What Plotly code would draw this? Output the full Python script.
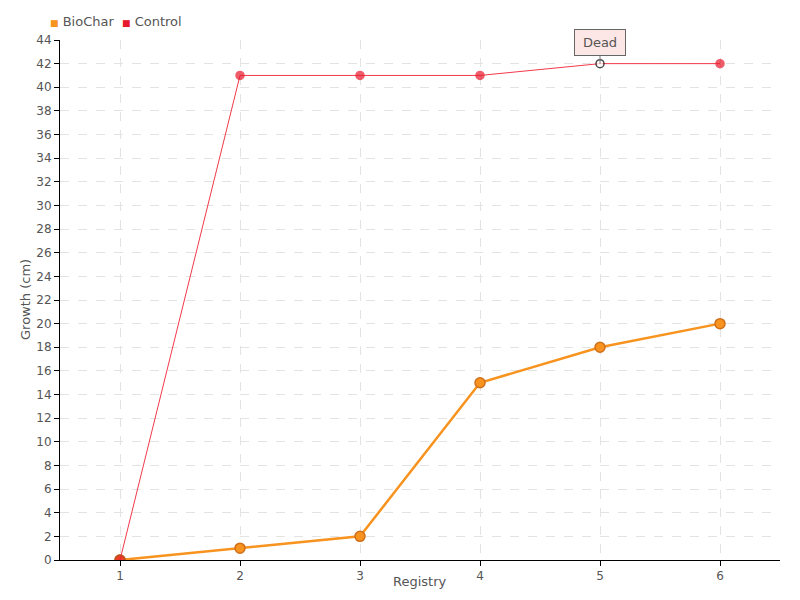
import plotly.graph_objects as go

registry = [1, 2, 3, 4, 5, 6]
biochar = [0, 1, 2, 15, 18, 20]
control = [0, 41, 41, 41, 42, 42]
y_ticks = list(range(0, 45, 2))

FONT = "DejaVu Sans, sans-serif"
ORANGE = "#f7931e"
RED = "#e8192c"
TXT = "#555"

# page body has an 8px offset, so margins are shifted to put the plot
# area at x 60..780, y 40..560 of the window
fig = go.Figure()

fig.add_trace(go.Scatter(
    x=registry, y=biochar, mode="lines+markers", name="BioChar",
    line=dict(color=ORANGE, width=2.5),
    marker=dict(color=ORANGE, size=10, line=dict(color="#cf6f1a", width=1.5)),
))

# the highlighted point at registry 5 is drawn white with a dark edge
ctrl_fill = [RED] * len(control)
ctrl_edge = [RED] * len(control)
ctrl_fill[4] = "white"
ctrl_edge[4] = "black"
ctrl_size = [8] * len(control)
ctrl_size[0] = 10
ctrl_edge[0] = "#b5451b"
fig.add_trace(go.Scatter(
    x=registry, y=control, mode="lines+markers", name="Control",
    line=dict(color="#f2394a", width=1),
    marker=dict(color=ctrl_fill, size=ctrl_size, line=dict(color=ctrl_edge, width=1.5)),
))

PW, PH = 720, 520  # plot area in px

def px_x(p):
    return (p - 60) / PW

def px_y(p):
    return 1 - (p - 40) / PH

# compact legend drawn as text
legend_text = (f"<span style='color:{ORANGE};font-size:9px'>■</span> BioChar  "
               f"<span style='color:{RED};font-size:9px'>■</span> Control")
fig.add_annotation(
    x=px_x(48), y=px_y(22), xref="paper", yref="paper", text=legend_text,
    showarrow=False, xanchor="left", yanchor="middle",
    font=dict(family=FONT, size=13, color=TXT),
)

# axis titles
fig.add_annotation(
    x=px_x(420), y=px_y(581), xref="paper", yref="paper", text="Registry",
    showarrow=False, xanchor="center", yanchor="middle",
    font=dict(family=FONT, size=13, color=TXT),
)
fig.add_annotation(
    x=px_x(25), y=px_y(300), xref="paper", yref="paper", text="Growth (cm)",
    showarrow=False, xanchor="center", yanchor="middle", textangle=-90,
    font=dict(family=FONT, size=13, color=TXT),
)

fig.add_annotation(
    x=registry[4], y=control[4], text="Dead",
    showarrow=True, arrowhead=0, arrowwidth=1, arrowcolor="#777",
    ax=0, ay=-21, width=48, height=23,
    bgcolor="#fde6e6", bordercolor="#666", borderwidth=1, borderpad=1,
    font=dict(family=FONT, size=13, color=TXT),
)

grid = dict(showgrid=True, gridcolor="#e3e3e3", griddash="dash", gridwidth=1)
fig.update_xaxes(
    range=[0.5, 6.5], tickvals=registry, ticks="outside", ticklen=5,
    tickcolor="black", showline=True, linecolor="black", linewidth=1,
    zeroline=False, automargin=False, tickfont=dict(size=12), **grid,
)
fig.update_yaxes(
    range=[0, 44], tickvals=y_ticks, ticks="outside", ticklen=5,
    tickcolor="black", showline=True, linecolor="black", linewidth=1,
    zeroline=False, automargin=False, tickfont=dict(size=12), **grid,
)

fig.update_layout(
    width=800, height=600,
    plot_bgcolor="white", paper_bgcolor="white",
    margin=dict(l=52, r=28, t=32, b=48),
    font=dict(family=FONT, size=13, color=TXT),
    showlegend=False,
)

fig.write_html("out.html")
